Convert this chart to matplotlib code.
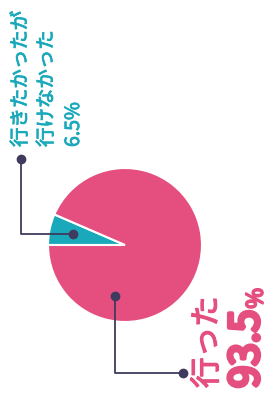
import numpy as np
import matplotlib
matplotlib.use("Agg")
import matplotlib.pyplot as plt
import matplotlib.patheffects as pe

# データ
labels = ["行きたかったが\n行けなかった", "行った"]
values = [6.5, 93.5]
colors = ["#1aa9ba", "#e54f80"]
line_color = "#3e3b5e"

plt.rcParams["font.family"] = ["Noto Sans CJK JP", "DejaVu Sans"]

fig = plt.figure(figsize=(2.68, 3.94), dpi=100)
ax = fig.add_axes([0, 0, 1, 1])

cx, cy, R = 125, 149, 77
start = 180 - values[0] / 100 * 360
wedges, _ = ax.pie(values, colors=colors, startangle=start, counterclock=True,
                   center=(cx, cy), radius=R, frame=True,
                   wedgeprops=dict(edgecolor="white", linewidth=1.5))
ax.set_xlim(0, 268)
ax.set_ylim(0, 394)
ax.axis("off")

def punto(ang, frac):
    a = np.deg2rad(ang)
    return cx + frac * R * np.cos(a), cy + frac * R * np.sin(a)

def grueso(c, w):
    return [pe.withStroke(linewidth=w, foreground=c)]

# 行きたかったが行けなかった
w = wedges[0]
tx, ty = punto((w.theta1 + w.theta2) / 2, 0.69)
ax.plot([tx, 21, 21], [ty, ty, 235], color=line_color, lw=1.3, zorder=3)
ax.plot([tx, 21], [ty, 235], "o", color=line_color, ms=6, zorder=4)

lineas = labels[0].split("\n") + [f"{values[0]}%"]
for x, t in zip([20.5, 46.5, 73.5], lineas):
    ax.text(x, 247, t, rotation=90, rotation_mode="anchor", ha="left", va="center",
            color=colors[0], fontsize=14, path_effects=grueso(colors[0], 0.6))

# 行った
px, py = punto(259, 0.68)
ax.plot([px, px, 183], [py, 21, 21], color=line_color, lw=1.3, zorder=3)
ax.plot([px, 183], [py, 21], "o", color=line_color, ms=6, zorder=4)

ax.text(207.5, 6, labels[1], rotation=90, rotation_mode="anchor", ha="left", va="center",
        color=colors[1], fontsize=22, path_effects=grueso(colors[1], 1.0))
num = ax.text(267.5, 6, f"{values[1]}", rotation=90, rotation_mode="anchor", ha="left",
              va="bottom", color=colors[1], fontsize=29,
              path_effects=grueso(colors[1], 3.0))
fig.canvas.draw()
bb = num.get_window_extent().transformed(ax.transData.inverted())
ax.text(267.5, bb.y1 + 1, "%", rotation=90, rotation_mode="anchor", ha="left",
        va="bottom", color=colors[1], fontsize=16, path_effects=grueso(colors[1], 1.5))

fig.savefig("out.png", dpi=100)
